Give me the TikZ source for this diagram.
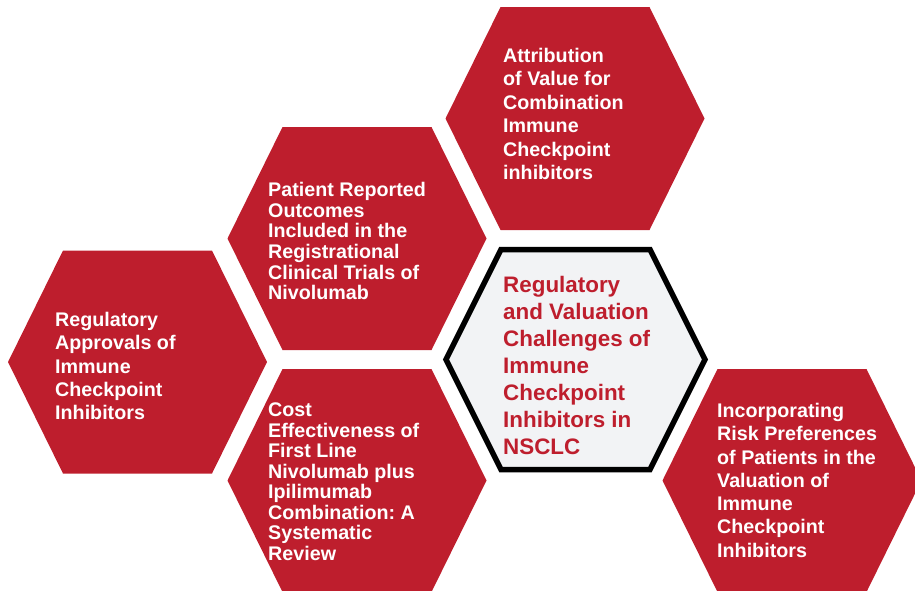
\documentclass[tikz,border=0pt]{standalone}
\usepackage{fontspec}
\setmainfont{Liberation Sans}
\frenchspacing
\definecolor{cellred}{HTML}{BE1E2D}
\definecolor{cellgray}{HTML}{F2F3F5}
\tikzset{
  hexcell/.style={fill=cellred},
  hubcell/.style={draw=black, fill=cellgray, line width=5.5pt, line join=miter},
  celltext/.style={anchor=north west, inner sep=0pt, align=left, text=white,
    font=\bfseries\fontsize{19.7}{23.5}\selectfont},
}
\begin{document}
\begin{tikzpicture}[x=1pt,y=-1pt]
    \clip (0,0) rectangle (915,590);

    % red cells round the hub
    \foreach \cx/\cy in {575/118.5, 357/238.5, 137.5/362, 357/480.5, 792/480.5}
        \fill[hexcell] (\cx-129.5,\cy) -- (\cx-74.5,\cy-111.5) -- (\cx+74.5,\cy-111.5)
            -- (\cx+129.5,\cy) -- (\cx+74.5,\cy+111.5) -- (\cx-74.5,\cy+111.5) -- cycle;

    % hub
    \draw[hubcell] (446,359.5) -- (501,249.5) -- (650,249.5) -- (705,359.5)
        -- (650,469.5) -- (501,469.5) -- cycle;

    \node[celltext] (attrib) at (503,48) {Attribution\\of Value for\\Combination\\Immune\\Checkpoint\\inhibitors};
    \node[celltext, font=\bfseries\fontsize{19.7}{20.7}\selectfont] (patient) at (268,182)
        {Patient Reported\\Outcomes\\Included in the\\Registrational\\Clinical Trials of\\Nivolumab};
    \node[celltext, font=\bfseries\fontsize{19.7}{23.3}\selectfont] (approvals) at (55,312)
        {Regulatory\\Approvals of\\Immune\\Checkpoint\\Inhibitors};
    \node[celltext, font=\bfseries\fontsize{19.7}{20.5}\selectfont] (cost) at (268,403)
        {Cost\\Effectiveness of\\First Line\\Nivolumab plus\\Ipilimumab\\Combination: A\\Systematic\\Review};
    \node[celltext, font=\bfseries\fontsize{19.7}{23.3}\selectfont] (risk) at (717,403)
        {Incorporating\\Risk Preferences\\of Patients in the\\Valuation of\\Immune\\Checkpoint\\Inhibitors};

    \node[celltext, text=cellred, font=\bfseries\fontsize{22.4}{27}\selectfont] (hub) at (503,276)
        {Regulatory\\and Valuation\\Challenges of\\Immune\\Checkpoint\\Inhibitors in\\NSCLC};
\end{tikzpicture}
\end{document}
